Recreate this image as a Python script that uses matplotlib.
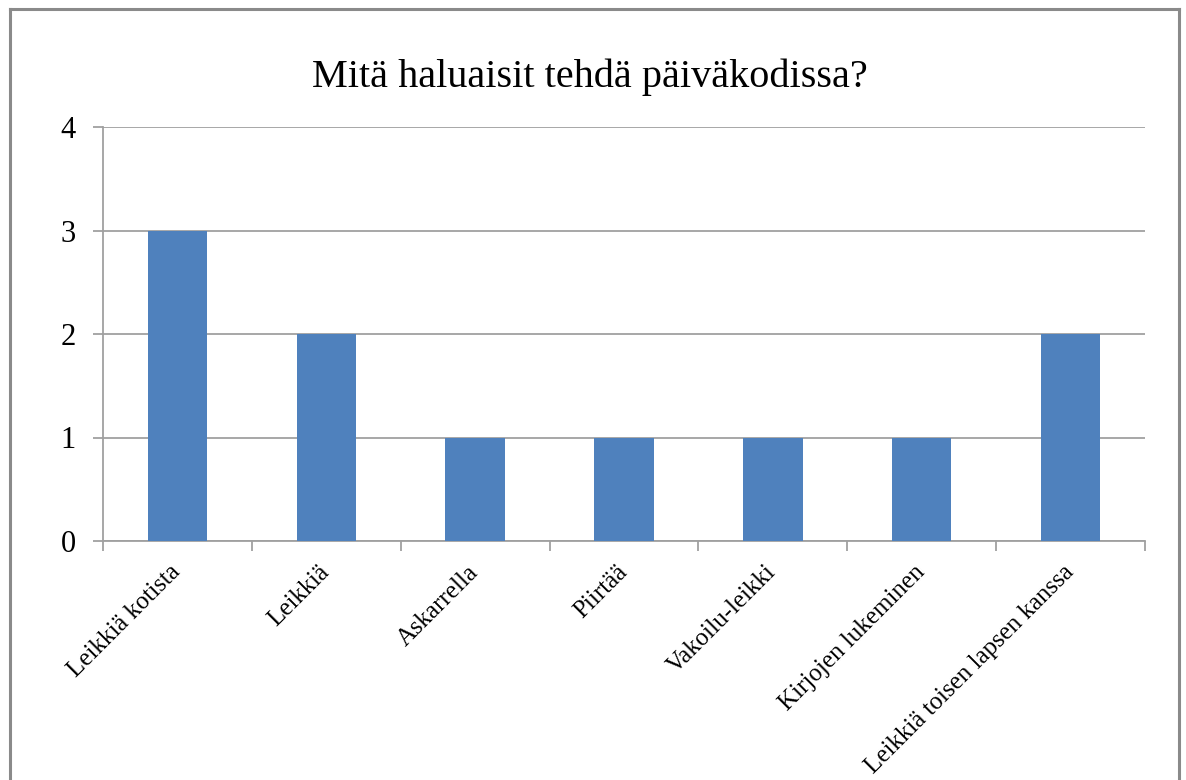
import matplotlib
matplotlib.use("Agg")
import matplotlib.pyplot as plt
from matplotlib.lines import Line2D

categories = ["Leikkiä kotista", "Leikkiä", "Askarrella", "Piirtää",
              "Vakoilu-leikki", "Kirjojen lukeminen", "Leikkiä toisen lapsen kanssa"]
values = [3, 2, 1, 1, 1, 1, 2]
y_ticks = [0, 1, 2, 3, 4]
title = "Mitä haluaisit tehdä päiväkodissa?"

plt.rcParams['font.family'] = ['Liberation Serif', 'DejaVu Serif']

W, H = 1186, 780
fig = plt.figure(figsize=(W / 100, H / 100), dpi=100)
fig.patch.set_facecolor('white')

# outer chart border (left, top, right)
bc = '#8a8a8a'
fig.add_artist(Line2D([10 / W, 10 / W], [0, 1 - 9 / H], color=bc, lw=2.2, transform=fig.transFigure))
fig.add_artist(Line2D([10 / W, 1179 / W], [1 - 9 / H, 1 - 9 / H], color=bc, lw=2.2, transform=fig.transFigure))
fig.add_artist(Line2D([1179 / W, 1179 / W], [0, 1 - 9 / H], color=bc, lw=2.2, transform=fig.transFigure))

left, right, bottom, top = 103, 1145, 541, 127
ax = fig.add_axes([left / W, 1 - bottom / H, (right - left) / W, (bottom - top) / H])

x = list(range(len(categories)))
ax.bar(x, values, width=0.4, color='#4F81BD', zorder=3)

ax.set_xlim(-0.5, len(categories) - 0.5)
ax.set_ylim(0, 4)

gc = '#a0a0a0'
ax.set_yticks(y_ticks)
ax.set_yticklabels([str(t) for t in y_ticks], fontsize=22)
ax.yaxis.grid(True, color=gc, lw=1.3, zorder=0)
ax.tick_params(axis='y', length=7.5, width=1.3, color=gc, pad=12)

ax.set_xticks([i - 0.5 for i in range(len(categories) + 1)])
ax.set_xticklabels([])
ax.set_xticks(x, minor=True)
ax.set_xticklabels(categories, minor=True, rotation=45, ha='right',
                   rotation_mode='anchor', fontsize=18)
ax.tick_params(axis='x', which='major', length=7.5, width=1.3, color=gc)
ax.tick_params(axis='x', which='minor', length=0, pad=20)
for lbl in ax.get_xticklabels(minor=True):
    lbl.set_va('center')

for s in ['top', 'right']:
    ax.spines[s].set_visible(False)
for s in ['left', 'bottom']:
    ax.spines[s].set_color(gc)
    ax.spines[s].set_linewidth(1.3)

fig.text(590 / W, 1 - 77 / H, title, ha='center', va='center', fontsize=29)

fig.savefig('out.png', dpi=100, facecolor='white')
